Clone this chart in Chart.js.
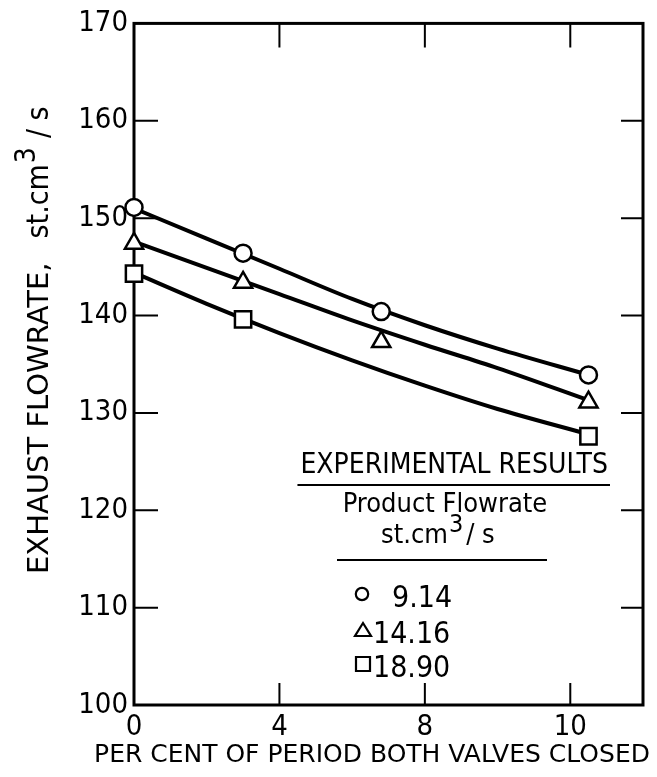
<!DOCTYPE html>
<html>
<head>
<meta charset="utf-8">
<script src="https://cdn.jsdelivr.net/npm/chart.js@4/dist/chart.umd.min.js"></script>
<style>
    body { margin: 0; background: #fff; }
    #wrap { width: 657px; height: 777px; }
</style>
</head>
<body>
<div id="wrap"><canvas id="flowChart" width="657" height="777"></canvas></div>
<script>
/* Data */
const xTickValues = [0, 4, 8, 12]
const xTickLabels = ['0', '4', '8', '10']
const yTickValues = [100, 110, 120, 130, 140, 150, 160, 170]

// measured points, x in per cent of period
const circleX = [0, 3.0, 6.8, 12.5]
const circleY = [151.1, 146.4, 140.4, 133.9]
const triangleX = [0, 3.0, 6.8, 12.5]
const triangleY = [147.4, 143.4, 137.3, 131.1]
const squareX = [0, 3.0, 12.5]
const squareY = [144.3, 139.6, 127.6]

// fitted curves
const curveX = [0, 2, 4, 6, 8, 10, 12.5]
const circleCurve = [151.0, 147.9, 144.8, 141.7, 139.0, 136.6, 133.9]
const triangleCurve = [147.6, 144.9, 142.2, 139.5, 137.0, 134.6, 131.3]
const squareCurve = [144.4, 141.2, 138.2, 135.4, 132.8, 130.4, 127.8]

const xTitle = 'PER CENT OF PERIOD BOTH VALVES CLOSED'
const yTitle = 'EXHAUST FLOWRATE,'
const legendTitle = 'EXPERIMENTAL RESULTS'
const legendSub = 'Product Flowrate'
const legendLabels = ['9.14', '14.16', '18.90']

const COND = "'DejaVu Sans Condensed', 'DejaVu Sans', sans-serif"
const WIDE = "'DejaVu Sans', sans-serif"

const toPoints = (xs, ys) => xs.map((x, i) => ({ x: x, y: ys[i] }))

const curveSet = (ys) => ({
    data: toPoints(curveX, ys),
    showLine: true,
    borderColor: '#000',
    borderWidth: 4,
    pointRadius: 0,
    cubicInterpolationMode: 'monotone',
    clip: false,
    order: 2
})

const markerSet = (xs, ys, style, radius) => ({
    data: toPoints(xs, ys),
    showLine: false,
    pointStyle: style,
    pointRadius: radius,
    pointBorderWidth: 2.5,
    pointBorderColor: '#000',
    pointBackgroundColor: '#fff',
    clip: false,
    order: 1
})

// "st.cm" + raised 3 + "/ s", drawn left to right from x
const drawUnit = (ctx, x, base, size, supSize, gap) => {
    ctx.font = size + 'px ' + COND
    ctx.fillText('st.cm', x, base)
    let w = ctx.measureText('st.cm').width
    ctx.font = supSize + 'px ' + COND
    ctx.fillText('3', x + w + 1, base - size * 0.42)
    w += ctx.measureText('3').width + gap
    ctx.font = size + 'px ' + COND
    ctx.fillText('/ s', x + w, base)
}

/* Box around the plot with inward ticks on all four sides */
const frame = {
    id: 'frame',
    beforeDatasetsDraw(chart) {
        const { ctx, chartArea: a, scales } = chart
        ctx.save()
        ctx.strokeStyle = '#000'
        ctx.lineWidth = 3
        ctx.strokeRect(a.left, a.top, a.right - a.left, a.bottom - a.top)
        ctx.lineWidth = 2
        ctx.beginPath()
        yTickValues.slice(1, -1).forEach(v => {
            const y = scales.y.getPixelForValue(v)
            ctx.moveTo(a.left, y); ctx.lineTo(a.left + 24, y)
            ctx.moveTo(a.right, y); ctx.lineTo(a.right - 22, y)
        })
        xTickValues.slice(1).forEach(v => {
            const x = scales.x.getPixelForValue(v)
            ctx.moveTo(x, a.bottom); ctx.lineTo(x, a.bottom - 22)
            ctx.moveTo(x, a.top); ctx.lineTo(x, a.top + 24)
        })
        ctx.stroke()
        ctx.restore()
    }
}

/* Axis titles, lettered like the original */
const axisTitles = {
    id: 'axisTitles',
    afterDraw(chart) {
        const { ctx } = chart
        ctx.save()
        ctx.fillStyle = '#000'
        ctx.textBaseline = 'alphabetic'

        // x title
        ctx.font = '25px ' + WIDE
        ctx.textAlign = 'center'
        ctx.fillText(xTitle, 372, 762)

        // y title, reading bottom to top
        ctx.translate(48, 574)
        ctx.rotate(-Math.PI / 2)
        ctx.textAlign = 'left'
        ctx.font = '29px ' + WIDE
        ctx.fillText(yTitle, 0, 0)
        const w = ctx.measureText(yTitle).width
        drawUnit(ctx, w + 24, 0, 30, 28, 10)
        ctx.restore()
    }
}

/* Hand-lettered legend block */
const legendBlock = {
    id: 'legendBlock',
    afterDraw(chart) {
        const { ctx } = chart
        ctx.save()
        ctx.fillStyle = '#000'
        ctx.strokeStyle = '#000'
        ctx.textBaseline = 'alphabetic'

        ctx.font = '28px ' + COND
        ctx.textAlign = 'right'
        ctx.fillText(legendTitle, 608, 473)
        const tw = ctx.measureText(legendTitle).width
        ctx.lineWidth = 2
        ctx.beginPath()
        ctx.moveTo(608 - tw - 3, 485); ctx.lineTo(610, 485)
        ctx.moveTo(337, 560); ctx.lineTo(547, 560)
        ctx.stroke()

        ctx.textAlign = 'center'
        ctx.font = '27px ' + COND
        ctx.fillText(legendSub, 445, 512)

        ctx.textAlign = 'left'
        drawUnit(ctx, 381, 543, 27, 25, 4)

        // entries
        ctx.font = '30px ' + COND
        const rows = [607, 643, 677]
        const styles = ['circle', 'triangle', 'rect']
        ctx.lineWidth = 2.2
        rows.forEach((base, i) => {
            const my = base - 13
            ctx.beginPath()
            if (styles[i] === 'circle') {
                ctx.arc(362, my, 6.2, 0, Math.PI * 2)
            } else if (styles[i] === 'triangle') {
                ctx.moveTo(363, my - 7); ctx.lineTo(371, my + 6); ctx.lineTo(355, my + 6); ctx.closePath()
            } else {
                ctx.rect(356, my - 7, 14, 14)
            }
            ctx.stroke()
            ctx.fillText(legendLabels[i], i === 0 ? 392 : 373, base)
        })
        ctx.restore()
    }
}

const ctx = document.getElementById('flowChart').getContext('2d')

new Chart(ctx, {
    type: 'scatter',
    data: {
        datasets: [
            curveSet(circleCurve),
            curveSet(triangleCurve),
            curveSet(squareCurve),
            markerSet(circleX, circleY, 'circle', 8.5),
            markerSet(triangleX, triangleY, 'triangle', 10.5),
            markerSet(squareX, squareY, 'rect', 11.5)
        ]
    },
    options: {
        responsive: false,
        animation: false,
        devicePixelRatio: 1,
        layout: { padding: { top: 22, right: 9, left: 0, bottom: 0 } },
        plugins: {
            legend: { display: false },
            tooltip: { enabled: false }
        },
        scales: {
            x: {
                type: 'linear',
                min: 0,
                max: 14,
                afterBuildTicks: (scale) => {
                    scale.ticks = xTickValues.map(v => ({ value: v }))
                },
                afterFit: (scale) => { scale.height = 72 },
                ticks: {
                    color: '#000',
                    font: { family: COND, size: 29 },
                    padding: 5,
                    maxRotation: 0,
                    callback: (v) => xTickLabels[xTickValues.indexOf(v)]
                },
                grid: { display: false, drawTicks: false },
                border: { display: false }
            },
            y: {
                min: 100,
                max: 170,
                afterBuildTicks: (scale) => {
                    scale.ticks = yTickValues.map(v => ({ value: v }))
                },
                afterFit: (scale) => { scale.width = 134 },
                ticks: {
                    color: '#000',
                    font: { family: COND, size: 29 },
                    padding: 6
                },
                grid: { display: false, drawTicks: false },
                border: { display: false }
            }
        }
    },
    plugins: [frame, axisTitles, legendBlock]
})
</script>
</body>
</html>
